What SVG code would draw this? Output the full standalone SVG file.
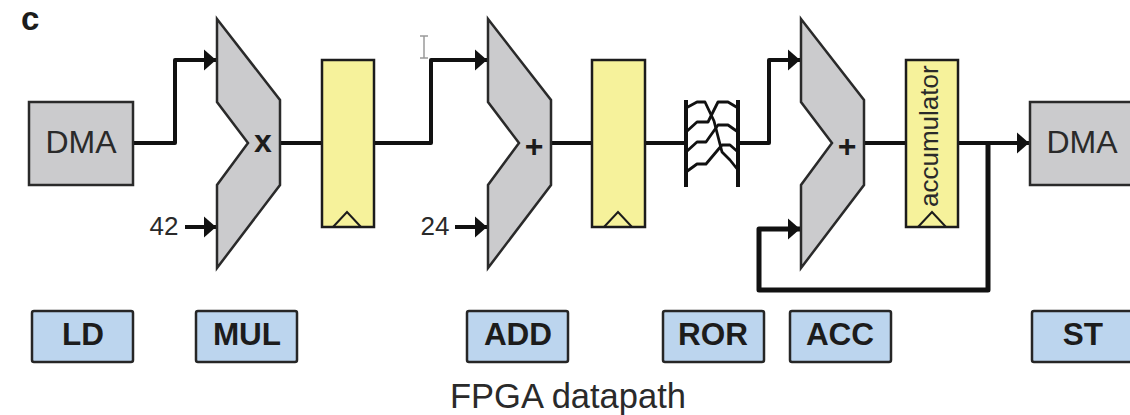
<svg xmlns="http://www.w3.org/2000/svg" width="1130" height="415" viewBox="0 0 1130 415">
<defs>
<marker id="arrow" markerUnits="userSpaceOnUse" markerWidth="16" markerHeight="24" refX="14" refY="12" orient="auto"><path d="M2 1.5 L14 12 L2 22.500 Z" fill="#111"/></marker>
<polygon id="alu" points="0,0 63,81 63,166 0,249 0,166 31,124 0,83"/>
</defs>
<style>
text{font-family:"Liberation Sans",Arial,sans-serif;fill:#2a2a2a}
.box{fill:#cbcbcd;stroke:#2a2a2a;stroke-width:2.5}
.alu{fill:#cbcbcd;stroke:#2a2a2a;stroke-width:2.5;stroke-linejoin:miter}
.reg{fill:#f6f29b;stroke:#1c1c1c;stroke-width:2.5}
.tri{fill:none;stroke:#1c1c1c;stroke-width:2}
.lbl{fill:#bcd5ee;stroke:#262626;stroke-width:2.5}
.t28{font-size:32px;text-anchor:middle}
.tb{font-size:31.500px;font-weight:700;text-anchor:middle;fill:#1c1c1c}
.num{font-size:26px;text-anchor:middle}
.op{font-size:32px;font-weight:700;text-anchor:middle;fill:#1c1c1c}
.w{fill:none;stroke:#111;stroke-width:4;stroke-linejoin:round}
.ror{fill:none;stroke:#111;stroke-width:2.800;stroke-linejoin:round}
</style>
<text x="21" y="30" style="fill:#1c1c1c;font-size:33px;font-weight:700">c</text>
<path d="M420 36 H428 M424 36 V58 M420 58 H428" fill="none" stroke="#9a9a9a" stroke-width="1.5"/>
<g id="connectors">
<path class="w" d="M134 143 H175 V60 H216" marker-end="url(#arrow)"/>
<path class="w" d="M185 227 H216" marker-end="url(#arrow)"/>
<path class="w" d="M280 143 H322"/>
<path class="w" d="M374 143 H431 V60 H487" marker-end="url(#arrow)"/>
<path class="w" d="M455 227 H487" marker-end="url(#arrow)"/>
<path class="w" d="M551 143 H592"/>
<path class="w" d="M645 143 H685"/>
<path class="w" d="M738 143 H769 V60 H800" marker-end="url(#arrow)"/>
<path class="w" d="M864 143 H906"/>
<path class="w" d="M958 143 H1029" marker-end="url(#arrow)"/>
<path class="w" style="stroke-width:5" d="M988 143 V290 H759 V229 H800" marker-end="url(#arrow)"/>
</g>
<g id="dma-in"><rect class="box" x="29" y="102" width="104" height="83"/><text class="t28" x="81" y="153">DMA</text></g>
<g id="mul-unit"><use href="#alu" class="alu" x="217" y="19"/><text class="op" x="263" y="152">x</text></g>
<g id="reg-1"><rect class="reg" x="322" y="60" width="52" height="167"/><path class="tri" d="M333 227 L347 212 L361 227"/></g>
<text class="num" x="164" y="235">42</text>
<g id="add-unit"><use href="#alu" class="alu" x="488" y="19"/><text class="op" x="534" y="157">+</text></g>
<g id="reg-2"><rect class="reg" x="592" y="60" width="53" height="167"/><path class="tri" d="M604 227 L618 212 L632 227"/></g>
<text class="num" x="435" y="235">24</text>
<g id="rotate">
<path class="ror" style="stroke-width:4" d="M686 100 V187 M738 100 V187"/>
<path class="ror" d="M686 108 L697 102 H705 L714 121 L722 152 L730 160 L738 170"/>
<path class="ror" d="M686 132 L697 122 H708 L718 102 H728 L738 108"/>
<path class="ror" d="M686 152 L697 142 H706 L718 125 H728 L738 132"/>
<path class="ror" d="M686 172 L697 164 H706 L722 145 H730 L738 152"/>
</g>
<g id="acc-unit"><use href="#alu" class="alu" x="801" y="19"/><text class="op" x="847" y="157">+</text></g>
<g id="accumulator"><rect class="reg" x="906" y="60" width="52" height="167"/><path class="tri" d="M918 227 L932 212 L946 227"/><text transform="translate(938,207) rotate(-90)" style="font-size:26px">accumulator</text></g>
<g id="dma-out"><rect class="box" x="1030" y="102" width="104" height="83"/><text class="t28" x="1082" y="153">DMA</text></g>
<g id="ld"><rect class="lbl" x="32" y="311" width="101" height="51" rx="2"/><text class="tb" x="83" y="345">LD</text></g>
<g id="mul"><rect class="lbl" x="196" y="311" width="101" height="51" rx="2"/><text class="tb" x="247" y="345">MUL</text></g>
<g id="add"><rect class="lbl" x="467" y="311" width="101" height="51" rx="2"/><text class="tb" x="518" y="345">ADD</text></g>
<g id="ror"><rect class="lbl" x="663" y="311" width="101" height="51" rx="2"/><text class="tb" x="713" y="345">ROR</text></g>
<g id="acc"><rect class="lbl" x="790" y="311" width="101" height="51" rx="2"/><text class="tb" x="840" y="345">ACC</text></g>
<g id="st"><rect class="lbl" x="1032" y="311" width="102" height="51" rx="2"/><text class="tb" x="1083" y="345">ST</text></g>
<text x="568" y="408" style="font-size:34.500px;text-anchor:middle">FPGA datapath</text>
</svg>
